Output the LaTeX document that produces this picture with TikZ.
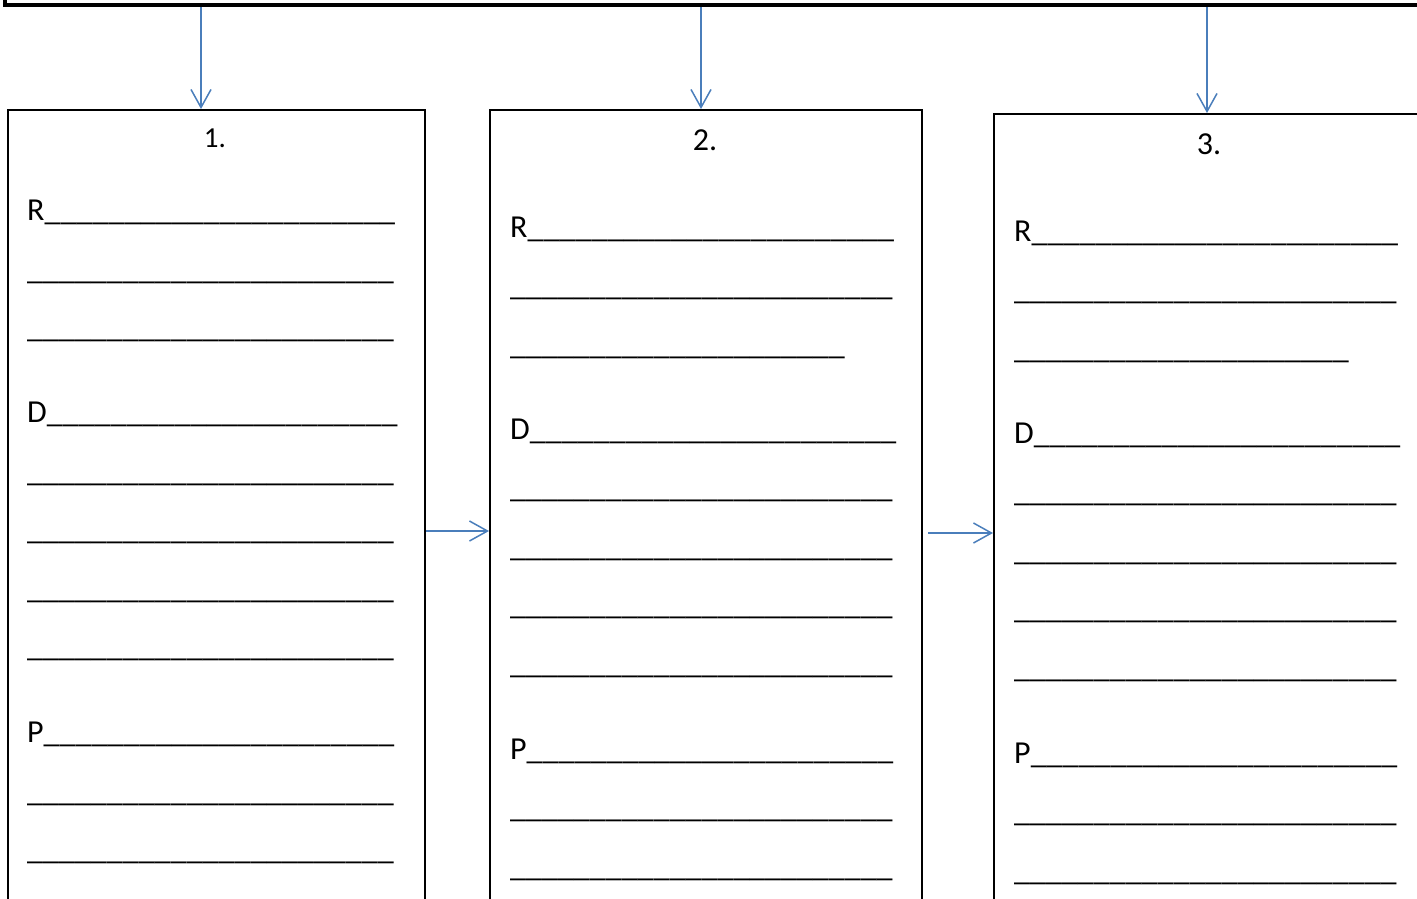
\documentclass[tikz,border=0pt]{standalone}
\usepackage{fontspec}
\setmainfont{Carlito}
\usetikzlibrary{positioning,calc,arrows.meta}
\definecolor{linkblue}{HTML}{4A7EBB}
\newcommand{\blanks}[1]{\foreach \u in {1,...,#1}{\_}}

\begin{document}
\begin{tikzpicture}[x=1pt,y=-1pt,
    panel/.style={draw,line width=2pt,anchor=north west,inner sep=0pt,minimum height=900pt},
    title/.style={anchor=base,inner sep=0pt,font=\fontsize{32}{38}\selectfont},
    row/.style={anchor=base west,inner sep=0pt,font=\fontsize{32}{38}\selectfont},
    flow/.style={linkblue,line width=1.5pt,-{Straight Barb[length=18pt,width=20pt]}}]
    \clip (0,0) rectangle (1417,898);
    % bar at the top
    \draw[line width=4pt] (5,-20) -- (5,5) -- (1440,5);
    \node[panel,minimum width=417pt] (b1) at (7,109) {};
    \node[panel,minimum width=432pt] (b2) at (489,109) {};
    \node[panel,minimum width=500pt] (b3) at (993,113) {};
    \node[title,font=\fontsize{29}{35}\selectfont] (n1) at (215,147) {1.};
    \node[title] (n2) at (705,150) {2.};
    \node[title] (n3) at (1209,154) {3.};
    \coordinate (t1) at (201,7);
    \coordinate (t2) at (701,7);
    \coordinate (t3) at (1207,7);
    \draw[flow] (t1) -- (t1 |- b1.north);
    \draw[flow] (t2) -- (t2 |- b2.north);
    \draw[flow] (t3) -- (t3 |- b3.north);
    \coordinate (h1) at (0,531);
    \coordinate (h2) at (928,533);
    \draw[flow] (b1.east |- h1) -- (b2.west |- h1);
    \draw[flow] (h2) -- (h2 -| b3.west);
    \foreach \dy/\lab/\n [count=\i] in {0/R/22,58.5/{}/23,117/{}/23,202/D/22,260.5/{}/23,319/{}/23,
        377.5/{}/23,436/{}/23,522/P/22,580.5/{}/23,639/{}/23}
        \node[row] (l1-\i) at (27,220.5+\dy) {\lab\blanks{\n}};
    \foreach \b/\x/\y in {2/510/237,3/1014/241} {
        \foreach \dy/\lab/\n [count=\i] in {0/R/23,58.5/{}/24,117/{}/21,202/D/23,260.5/{}/24,319/{}/24,
            377.5/{}/24,436/{}/24,522/P/23,580.5/{}/24,639/{}/24}
            \node[row] (l\b-\i) at (\x,\y+\dy) {\lab\blanks{\n}};
    }
\end{tikzpicture}
\end{document}
